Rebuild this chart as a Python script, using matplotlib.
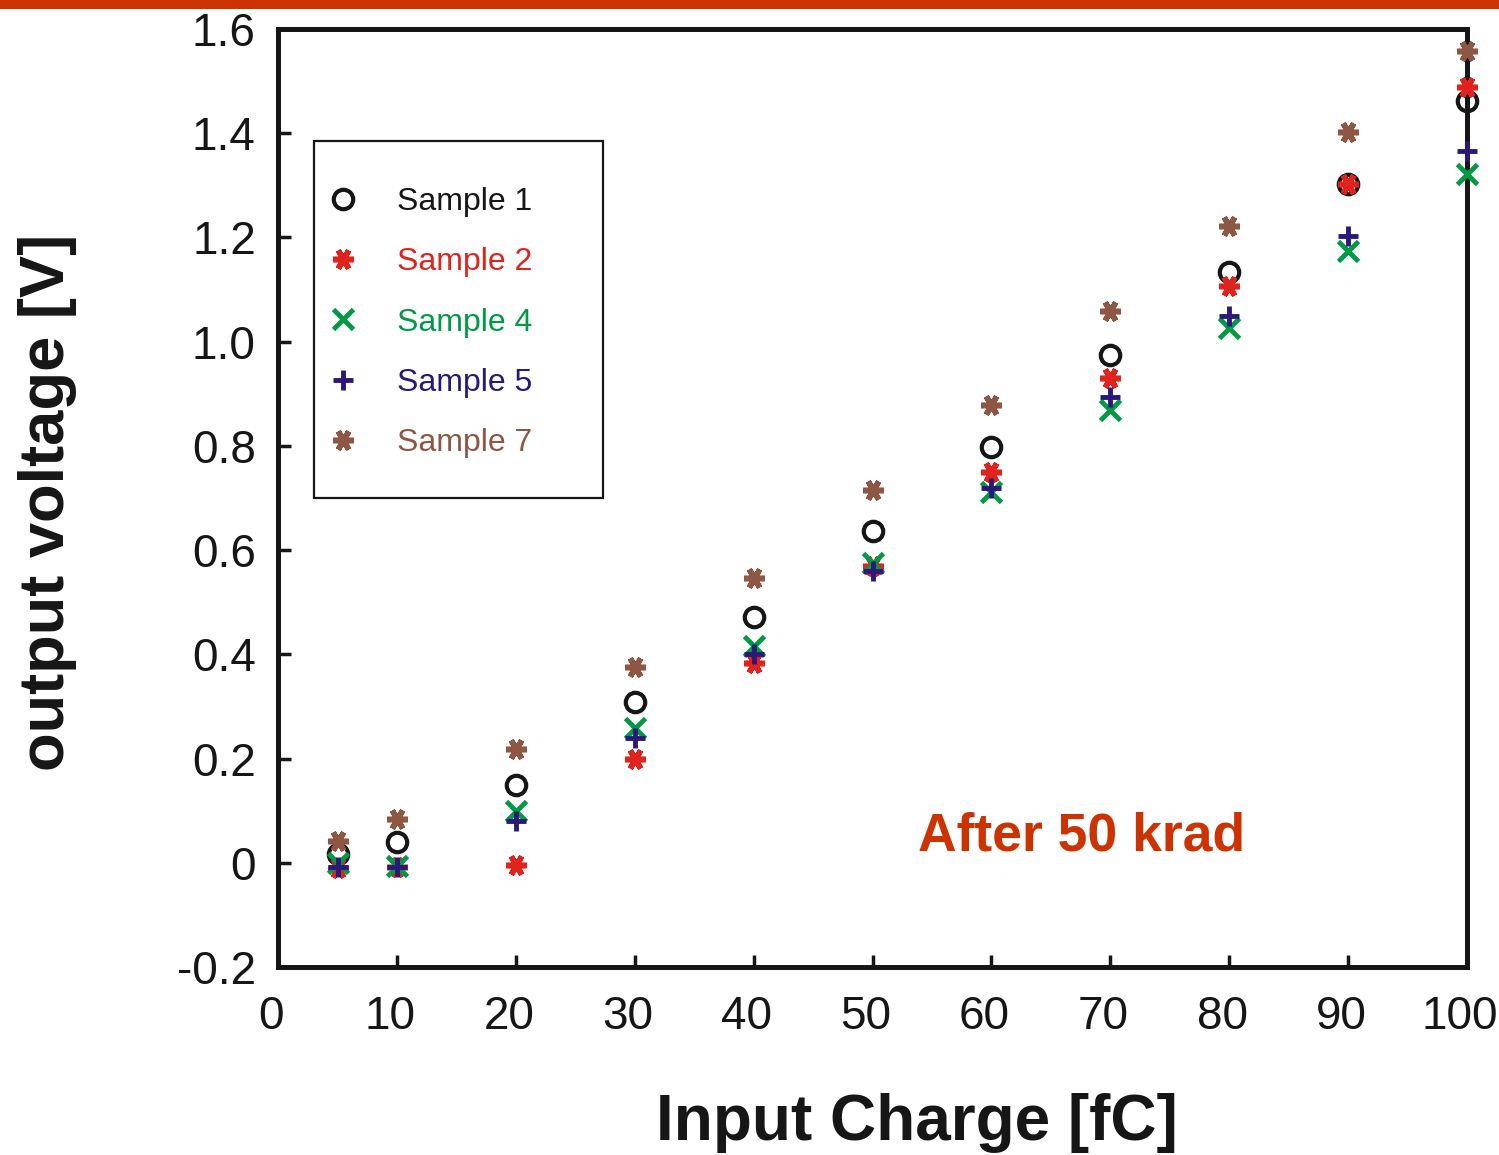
import matplotlib
matplotlib.use("Agg")
import matplotlib.pyplot as plt
import matplotlib.transforms as mtransforms
from matplotlib.patches import Rectangle

plt.rcParams['font.family'] = ['Liberation Sans', 'DejaVu Sans']

# input charge [fC]
charge = [5, 10, 20, 30, 40, 50, 60, 70, 80, 90, 100]

# output voltage [V] per sample
sample1 = [0.017, 0.040, 0.150, 0.308, 0.472, 0.637, 0.798, 0.975, 1.134, 1.303, 1.461]
sample2 = [-0.010, -0.008, -0.005, 0.200, 0.383, 0.570, 0.750, 0.930, 1.106, 1.303, 1.489]
sample4 = [0.000, -0.006, 0.100, 0.258, 0.415, 0.575, 0.712, 0.868, 1.027, 1.173, 1.322]
sample5 = [-0.008, -0.008, 0.080, 0.240, 0.400, 0.559, 0.720, 0.893, 1.050, 1.202, 1.365]
sample7 = [0.041, 0.084, 0.219, 0.376, 0.547, 0.716, 0.879, 1.058, 1.221, 1.403, 1.557]

labels = ['Sample 1', 'Sample 2', 'Sample 4', 'Sample 5', 'Sample 7']
colors = ['#161616', '#E0231C', '#009A44', '#2B1878', '#8E5744']

fig = plt.figure(figsize=(14.99, 11.55), dpi=100)
ax = fig.add_axes([0.1855, 0.1628, 0.7932, 0.8121])

# orange bar across the top of the slide
fig.patches.append(Rectangle((0, 0.9925), 1, 0.0075, transform=fig.transFigure,
                             facecolor='#CC3300', edgecolor='none'))

# plot the samples
ax.plot(charge, sample1, 'o', color=colors[0], ms=14, mfc='none', mew=3, label=labels[0], clip_on=False, zorder=3)
ax.plot(charge, sample2, ls='none', marker=(6, 2, 90), color=colors[1], ms=15, mew=4, label=labels[1], clip_on=False, zorder=3)
ax.plot(charge, sample4, 'x', color=colors[2], ms=14, mew=3.5, label=labels[2], clip_on=False, zorder=3)
ax.plot(charge, sample5, '+', color=colors[3], ms=15, mew=3.5, label=labels[3], clip_on=False, zorder=4)
ax.plot(charge, sample7, ls='none', marker=(6, 2, 90), color=colors[4], ms=15, mew=4, label=labels[4], clip_on=False, zorder=3)

ax.set_xlim(0, 100)
ax.set_ylim(-0.2, 1.6)
ax.set_xticks([0, 10, 20, 30, 40, 50, 60, 70, 80, 90, 100])
ax.set_xticklabels(['0', '10', '20', '30', '40', '50', '60', '70', '80', '90', '100'])
ax.set_yticks([-0.2, 0, 0.2, 0.4, 0.6, 0.8, 1.0, 1.2, 1.4, 1.6])
ax.set_yticklabels(['-0.2', '0', '0.2', '0.4', '0.6', '0.8', '1.0', '1.2', '1.4', '1.6'])
ax.tick_params(direction='in', length=9, width=2.5, labelsize=33, colors='#161616')
ax.tick_params(axis='x', pad=20)
ax.tick_params(axis='y', pad=16)
# x tick labels sit a little left of their ticks
shift = mtransforms.ScaledTranslation(-5 / 72, 0, fig.dpi_scale_trans)
for lbl in ax.get_xticklabels():
    lbl.set_transform(lbl.get_transform() + shift)
for s in ax.spines.values():
    s.set_linewidth(3.6)
    s.set_color('#161616')

ax.set_xlabel('Input Charge [fC]', fontsize=46, fontweight='bold', color='#161616')
ax.xaxis.set_label_coords(0.537, -0.134)
ax.set_ylabel('output voltage [V]', fontsize=45.5, fontweight='bold', color='#161616')
ax.yaxis.set_label_coords(-0.169, 0.495)

ax.text(0.676, 0.139, 'After 50 krad', transform=ax.transAxes, fontsize=38.5,
        fontweight='bold', color='#CC3300', ha='center', va='center')

# legend with a plain box
ax.add_patch(Rectangle((0.0303, 0.5), 0.243, 0.3806, transform=ax.transAxes,
                       facecolor='white', edgecolor='#161616', lw=1.6, zorder=5))
leg = ax.legend(loc='upper left', bbox_to_anchor=(0.0292, 0.8486), frameon=False,
                fontsize=23, handlelength=0.9, handletextpad=1.23, labelspacing=0.95,
                borderpad=0)
for txt, c in zip(leg.get_texts(), colors):
    txt.set_color(c)
leg.set_zorder(6)

fig.savefig('out.png', dpi=100)
